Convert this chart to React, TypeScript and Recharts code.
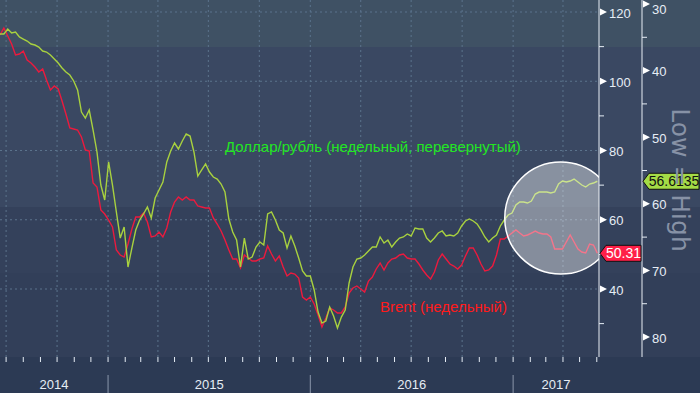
import React from "react";
import { LineChart, Line, XAxis, YAxis, CartesianGrid, ReferenceDot } from "recharts";

const DAY = 86400000;
const WEEK = 7 * DAY;
const START = Date.UTC(2014, 5, 20);
const DOMAIN_END = START + 1081 * DAY;

// Weekly Brent, USD
const brentWeekly = [
  113.36, 115.38, 113.07, 110.76, 107.58, 107.87, 108.74, 106.14, 105.27, 104.12,
  102.67, 103.54, 100.36, 97.47, 98.63, 97.76, 94.3, 90.54, 86.5, 86.21,
  85.92, 83.9, 80.14, 79.86, 70.61, 69.46, 62.82, 61.66, 59.93, 57.91,
  51.26, 49.82, 49.24, 53.0, 57.33, 60.79, 60.79, 61.95, 59.35, 55.02,
  55.31, 56.46, 55.02, 57.62, 62.24, 65.13, 66.57, 65.7, 66.57, 65.7,
  65.7, 63.97, 63.68, 63.39, 63.39, 60.51, 58.77, 56.75, 54.15, 51.26,
  48.66, 48.66, 46.06, 49.82, 48.95, 48.09, 48.09, 48.66, 48.95, 52.42,
  50.11, 48.09, 49.53, 46.35, 43.75, 44.62, 44.33, 43.18, 37.69, 36.82,
  37.69, 35.67, 32.49, 29.03, 31.62, 34.51, 33.94, 33.07, 33.07, 34.8,
  38.84, 40.29, 40.87, 40.0, 39.13, 42.31, 43.47, 45.78, 47.51, 45.49,
  47.51, 48.66, 48.95, 49.82, 50.11, 48.95, 48.66, 48.66, 47.22, 45.49,
  44.04, 42.89, 44.91, 48.38, 50.11, 48.66, 47.22, 46.64, 45.78, 46.93,
  49.53, 51.84, 51.84, 49.82, 47.22, 45.2, 45.49, 46.64, 49.82, 54.44,
  54.44, 55.31, 56.17, 57.04, 56.17, 55.31, 55.6, 56.17, 56.75, 56.17,
  55.88, 55.88, 55.02, 51.55, 51.55, 51.55, 53.57, 55.6, 53.57, 51.55,
  50.69, 50.4, 53.0, 52.71, 50.31,
];

// Weekly USD/RUB (plotted on an inverted axis)
const usdRubWeekly = [
  34.5, 34.5, 33.75, 34.35, 34.2, 34.95, 35.26, 35.56, 36.01, 36.16,
  36.46, 37.06, 37.21, 37.66, 38.26, 38.86, 39.61, 40.21, 40.66, 41.56,
  42.91, 46.22, 47.12, 45.92, 48.92, 52.22, 57.18, 59.43, 53.72, 57.18,
  61.23, 65.14, 63.48, 69.49, 66.64, 63.93, 62.43, 61.53, 60.48, 62.13,
  59.13, 57.93, 56.73, 53.72, 52.07, 50.87, 51.77, 50.57, 49.52, 49.82,
  52.22, 55.83, 54.92, 54.02, 55.23, 55.98, 56.28, 57.03, 58.23, 62.28,
  64.23, 65.44, 69.49, 65.14, 68.29, 67.99, 66.49, 65.74, 66.19, 61.53,
  61.23, 62.43, 63.93, 64.38, 66.64, 64.83, 66.34, 68.14, 70.09, 70.84,
  70.84, 72.94, 76.25, 77.9, 77.6, 75.5, 76.85, 78.65, 77.0, 75.95,
  71.89, 69.49, 68.29, 68.14, 67.69, 67.09, 66.49, 66.49, 64.98, 65.89,
  65.44, 66.49, 65.74, 65.14, 64.98, 64.53, 64.83, 63.63, 63.78, 63.78,
  65.14, 65.74, 65.14, 64.38, 64.08, 64.83, 64.68, 64.83, 64.38, 63.33,
  62.58, 62.28, 62.58, 63.03, 63.93, 64.98, 65.74, 65.14, 64.68, 63.33,
  62.43, 61.68, 61.38, 60.18, 59.73, 59.73, 59.88, 59.58, 58.53, 58.23,
  58.23, 58.23, 58.38, 58.23, 57.03, 56.58, 56.73, 56.58, 56.28, 56.73,
  57.18, 57.48, 57.03, 56.88, 56.6135,
];

const YEARS = ["2014", "2015", "2016", "2017"];
const BRENT_MAJOR = [40, 60, 80, 100, 120];
const BRENT_MINOR = [30, 50, 70, 90, 110];
const RUB_MAJOR = [30, 40, 50, 60, 70, 80];
const RUB_MINOR = [35, 45, 55, 65, 75];

const LAST_BRENT = brentWeekly[brentWeekly.length - 1];
const LAST_RUB = usdRubWeekly[usdRubWeekly.length - 1];

const LABEL_RUB = "Доллар/рубль (недельный, перевернутый)";
const LABEL_BRENT = "Brent (недельный)";
const SIDE_NOTE = "Low = High";

const CIRCLE_DATE = Date.UTC(2017, 2, 28);
const CIRCLE_BRENT = 60.5;

const data = brentWeekly.map((b, i) => ({ t: START + i * WEEK, brent: b, rub: usdRubWeekly[i] }));

const yearStarts = [2015, 2016, 2017].map((y) => Date.UTC(y, 0, 1));
const bounds = [START, ...yearStarts, DOMAIN_END];
const YEAR_MIDS = YEARS.map((_, i) => (bounds[i] + bounds[i + 1]) / 2);

const monthTicks: number[] = [];
for (let y = 2014; y <= 2017; y++) {
  for (let m = 0; m < 12; m++) {
    const t = Date.UTC(y, m, 1);
    if (t > START && t < DOMAIN_END) monthTicks.push(t);
  }
}
const quarterTicks = monthTicks.filter((t) => new Date(t).getUTCMonth() % 3 === 0);

const FONT = "'Liberation Sans', Arial, sans-serif";
const TICK_COLOR = "#e6edf5";

function XTick(props: any) {
  const { x, y, payload } = props;
  const v = payload.value;
  const yi = YEAR_MIDS.indexOf(v);
  if (yi >= 0) {
    return (
      <text x={x} y={y + 32} textAnchor="middle" fill={TICK_COLOR} fontSize={13} fontFamily={FONT}>
        {YEARS[yi]}
      </text>
    );
  }
  const jan = new Date(v).getUTCMonth() === 0;
  return (
    <g>
      <line x1={x} x2={x} y1={y} y2={y + 5} stroke={TICK_COLOR} strokeWidth={1} />
      {jan && <line x1={x} x2={x} y1={y + 18} y2={y + 36} stroke="#8b97ab" strokeWidth={1} />}
    </g>
  );
}

function Badge({ x, y, w, text, fill, color }: any) {
  const h = 8;
  const pts = `${x},${y} ${x + 6},${y - h} ${x + w},${y - h} ${x + w},${y + h} ${x + 6},${y + h}`;
  return (
    <g>
      <polygon points={pts} fill={fill} stroke="#111" strokeWidth={1} />
      <text x={x + 6 + (w - 6) / 2} y={y} dy="0.36em" textAnchor="middle" fill={color} fontSize={14} fontFamily={FONT}>
        {text}
      </text>
    </g>
  );
}

function makeYTick(major: number[], minor: number[], last: number, badge: any) {
  return (props: any) => {
    const { x, y, payload } = props;
    const v = payload.value;
    if (v === last) return <Badge x={x + 1} y={y} {...badge} />;
    if (minor.includes(v)) return <line x1={x} x2={x + 5} y1={y} y2={y} stroke={TICK_COLOR} strokeWidth={1} />;
    if (!major.includes(v)) return <g />;
    const ty = Math.max(y + 1, 9);
    return (
      <g>
        <polygon points={`${x + 1},${y - 3.5} ${x + 8},${y} ${x + 1},${y + 3.5}`} fill="#ffffff" />
        <text x={x + 10} y={ty} dy="0.36em" fill={TICK_COLOR} fontSize={13} fontFamily={FONT}>
          {v}
        </text>
      </g>
    );
  };
}

const brentTick = makeYTick(BRENT_MAJOR, BRENT_MINOR, LAST_BRENT, {
  w: 41,
  text: LAST_BRENT.toFixed(2),
  fill: "#ff1f48",
  color: "#ffffff",
});
const rubTick = makeYTick(RUB_MAJOR, RUB_MINOR, LAST_RUB, {
  w: 56,
  text: String(LAST_RUB),
  fill: "#a4dc46",
  color: "#111111",
});

export default function App() {
  return (
    <div
      style={{
        position: "absolute",
        left: 0,
        top: 0,
        width: 700,
        height: 393,
        background:
          "linear-gradient(to bottom, #3f5164 0px, #3f5164 47px, #3a4862 47px, #3a4862 207px, #34415b 207px, #34415b 273px, #323f59 273px, #323f59 357px, #2c3a54 357px, #2c3a54 393px)",
        overflow: "hidden",
      }}
    >
      <LineChart width={700} height={393} data={data} margin={{ top: 0, right: 0, bottom: 0, left: 0 }}>
        <CartesianGrid
          yAxisId="brent"
          stroke="#5b738c"
          strokeDasharray="2 3"
          horizontalValues={BRENT_MAJOR}
          verticalValues={quarterTicks}
        />
        <XAxis
          dataKey="t"
          type="number"
          domain={[START, DOMAIN_END]}
          allowDataOverflow
          ticks={[...monthTicks, ...YEAR_MIDS]}
          interval={0}
          tick={XTick}
          tickLine={false}
          axisLine={false}
          tickSize={0}
          tickMargin={0}
          height={36}
        />
        <YAxis
          yAxisId="brent"
          orientation="right"
          domain={[20.36, 123.47]}
          allowDataOverflow
          ticks={[...BRENT_MINOR, ...BRENT_MAJOR, LAST_BRENT]}
          interval={0}
          tick={brentTick}
          tickLine={false}
          tickSize={0}
          tickMargin={0}
          axisLine={{ stroke: "#e8eef5", strokeWidth: 1 }}
          width={43}
        />
        <YAxis
          yAxisId="rub"
          orientation="right"
          reversed
          domain={[29.4, 83.0]}
          allowDataOverflow
          ticks={[...RUB_MINOR, ...RUB_MAJOR, LAST_RUB]}
          interval={0}
          tick={rubTick}
          tickLine={false}
          tickSize={0}
          tickMargin={0}
          axisLine={{ stroke: "#e8eef5", strokeWidth: 1 }}
          width={58}
        />
        <Line
          yAxisId="brent"
          dataKey="brent"
          type="linear"
          stroke="#ec1a3e"
          strokeWidth={1.4}
          dot={false}
          activeDot={false}
          isAnimationActive={false}
        />
        <Line
          yAxisId="rub"
          dataKey="rub"
          type="linear"
          stroke="#a8d13f"
          strokeWidth={1.4}
          dot={false}
          activeDot={false}
          isAnimationActive={false}
        />
        <ReferenceDot
          yAxisId="brent"
          x={CIRCLE_DATE}
          y={CIRCLE_BRENT}
          r={56}
          fill="#ffffff"
          fillOpacity={0.4}
          stroke="#ffffff"
          strokeWidth={1.5}
          ifOverflow="hidden"
        />
      </LineChart>
      <svg width={700} height={393} style={{ position: "absolute", left: 0, top: 0, pointerEvents: "none" }}>
        <text x={225} y={152} fill="#22e622" fontSize={15} fontFamily={FONT}>
          {LABEL_RUB}
        </text>
        <text x={380} y={312} fill="#ff1a1a" fontSize={15} fontFamily={FONT}>
          {LABEL_BRENT}
        </text>
        <text
          transform="translate(681,180) rotate(90)"
          textAnchor="middle"
          dy="0.35em"
          fill="#8792a6"
          fontSize={25}
          fontFamily="'DejaVu Sans', sans-serif"
        >
          {SIDE_NOTE}
        </text>
      </svg>
    </div>
  );
}
